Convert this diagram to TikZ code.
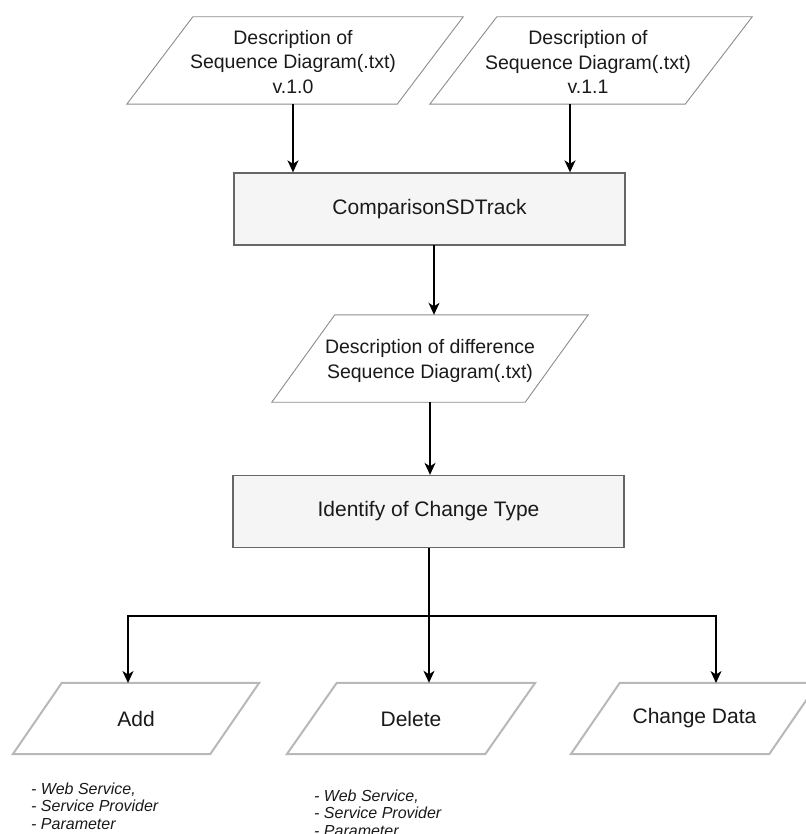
\documentclass[tikz,border=0pt]{standalone}
\usepackage{fontspec}
\setmainfont{Liberation Sans}
\usetikzlibrary{arrows.meta,calc}
\definecolor{boxfill}{HTML}{F5F5F5}
\definecolor{boxline}{HTML}{666666}
\definecolor{ioline}{HTML}{8C8C8C}
\definecolor{iolinelight}{HTML}{B8B8B8}
\definecolor{txt}{HTML}{1A1A1A}
% parallelogram drawn over the bounding box of a node: name, slant, style
\newcommand\iopara[3]{%
  \draw[#3] (#1.south west) -- ($(#1.south east)-(#2,0)$) -- (#1.north east)
    -- ($(#1.north west)+(#2,0)$) -- cycle;}
\begin{document}
\begin{tikzpicture}[x=1pt,y=-1pt,
  proc/.style={draw=boxline, fill=boxfill, line width=1.3pt, minimum width=391pt,
    minimum height=72pt, inner sep=0pt, text=txt, font=\fontsize{21}{25}\selectfont},
  iobox/.style={inner sep=0pt, align=center, text=txt},
  multi/.style={font=\fontsize{19.5}{24.5}\selectfont},
  single/.style={font=\fontsize{21}{25}\selectfont},
  thinio/.style={draw=ioline, line width=0.9pt, fill=white},
  wideio/.style={draw=iolinelight, line width=2pt, fill=white},
  arr/.style={draw=black, line width=1.5pt,
    -{Stealth[length=12pt,width=11pt,inset=3.5pt]}},
  notes/.style={inner sep=0pt, align=left, text=txt,
    font=\fontsize{16}{17.3}\selectfont\itshape}]
\useasboundingbox (0,0) rectangle (805,834);

% input descriptions
\node[iobox, minimum width=336pt, minimum height=87pt] (v10) at (295,60.5) {};
\node[iobox, minimum width=322pt, minimum height=87pt] (v11) at (591,60.5) {};
\iopara{v10}{66}{thinio}
\iopara{v11}{67}{thinio}
\node[iobox, multi] (v10t) at (293,62) {Description of\\Sequence Diagram(.txt)\\v.1.0};
\node[iobox, multi] (v11t) at (588,62) {Description of\\Sequence Diagram(.txt)\\v.1.1};
\coordinate (v10out) at (293,104);
\coordinate (v11out) at (570,104);

% comparison step
\node[proc] (cmp) at (429.5,209) {ComparisonSDTrack};
\coordinate (cmpout) at (434,245);

% difference description
\node[iobox, minimum width=316pt, minimum height=87pt] (dif) at (430,358.5) {};
\iopara{dif}{63}{thinio}
\node[iobox, multi] (dift) at (430,361) {Description of difference\\Sequence Diagram(.txt)};

% change type step
\node[proc] (ident) at (428.5,511.5) {Identify of Change Type};

% change types
\node[iobox, minimum width=246pt, minimum height=71pt] (add) at (136,718.5) {};
\node[iobox, minimum width=248pt, minimum height=71pt] (del) at (411,718.5) {};
\node[iobox, minimum width=247pt, minimum height=71pt] (chg) at (694.5,718.5) {};
\iopara{add}{49}{wideio}
\iopara{del}{50}{wideio}
\iopara{chg}{49}{wideio}
\node[iobox, single] (addt) at (add) {Add};
\node[iobox, single] (delt) at (del) {Delete};
\node[iobox, single] (chgt) at (chg) {Change Data};

% element lists
\node[notes, anchor=west] (addn) at (31,806) {- Web Service,\\- Service Provider\\- Parameter};
\node[notes, anchor=west] (deln) at (314,813) {- Web Service,\\- Service Provider\\- Parameter};

% branching point below the change type step
\coordinate (identout) at (429,548);
\coordinate (split) at (429,616);
\coordinate (addin) at (128,683);
\coordinate (chgin) at (716,683);

% connectors
\draw[arr] (v10out) -- (v10out |- cmp.north);
\draw[arr] (v11out) -- (v11out |- cmp.north);
\draw[arr] (cmpout) -- (cmpout |- dif.north);
\draw[arr] (dif.south) -- (dif.south |- ident.north);
\draw[arr] (identout) -- (split) -| (addin);
\draw[arr] (identout) -- (identout |- del.north);
\draw[arr] (identout) -- (split) -| (chgin);
\end{tikzpicture}
\end{document}
